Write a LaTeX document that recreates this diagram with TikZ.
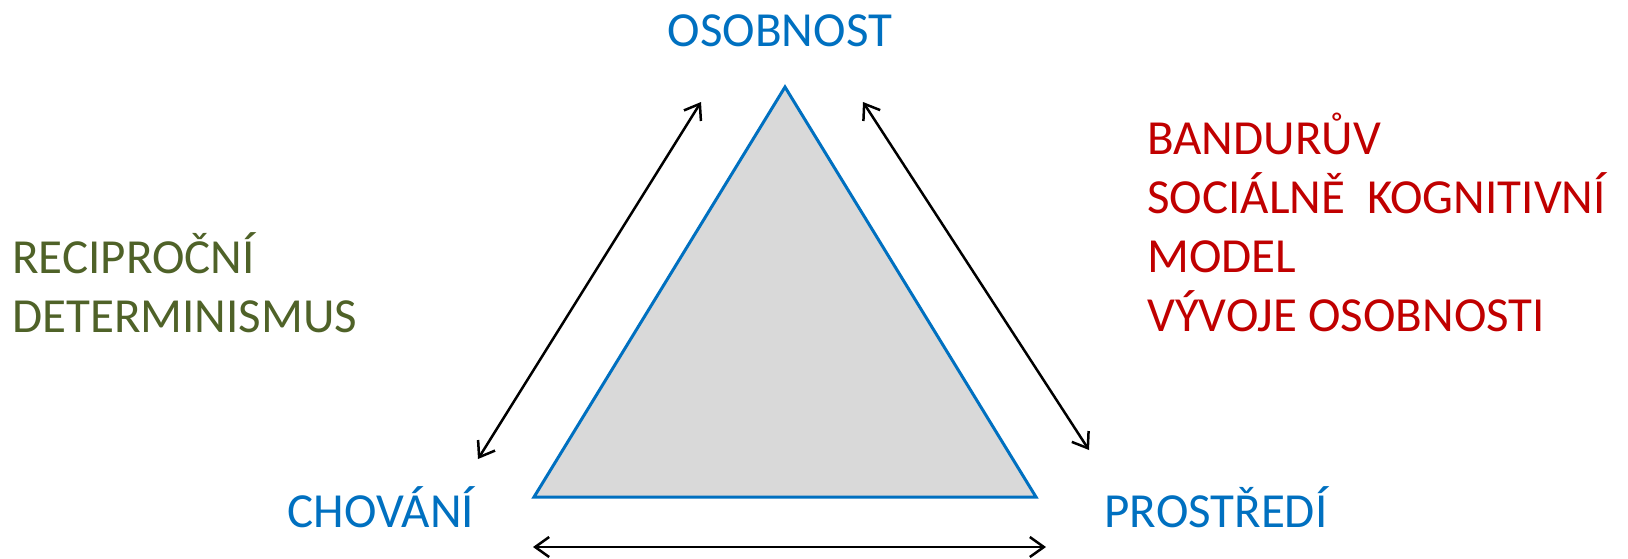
\documentclass[tikz,border=0pt]{standalone}
\usepackage{fontspec}
\setmainfont{Carlito}
\usetikzlibrary{arrows.meta}
\definecolor{osblue}{HTML}{0070C0}
\definecolor{osgreen}{HTML}{4F6228}
\definecolor{osred}{HTML}{C00000}
\definecolor{osgray}{HTML}{D9D9D9}

\begin{document}
\begin{tikzpicture}[x=1pt,y=-1pt,>={Straight Barb[length=14pt,width=20pt]},line width=2.5pt,
    vertex/.style={text=osblue,font=\fontsize{49}{59}\selectfont,inner sep=0pt,anchor=base},
    caption/.style={font=\fontsize{49}{59}\selectfont,inner sep=0pt,anchor=base west,align=left}]
  \useasboundingbox (0,0) rectangle (1628,558);
  % triangle
  \coordinate (t1) at (785,87);
  \coordinate (t2) at (534,497);
  \coordinate (t3) at (1036,497);
  \filldraw[fill=osgray,draw=osblue,line width=3pt] (t1) -- (t2) -- (t3) -- cycle;
  % labels (multi-line ones sit on their last baseline)
  \node[vertex] (O) at (780,46)   {OSOBNOST};
  \node[vertex] (C) at (381,527)  {CHOVÁNÍ};
  \node[vertex] (P) at (1216,527) {PROSTŘEDÍ};
  \node[caption,text=osgreen] (RD) at (11,332)   {RECIPROČNÍ\\DETERMINISMUS};
  \node[caption,text=osred]   (BM) at (1146,331) {BANDURŮV\\SOCIÁLNĚ\ \ KOGNITIVNÍ\\MODEL\\VÝVOJE OSOBNOSTI};
  % arrows
  \coordinate (l1) at (478,459);
  \coordinate (l2) at (701,102);
  \coordinate (r1) at (863,102);
  \coordinate (r2) at (1089,450);
  \coordinate (b1) at (533,547);
  \coordinate (b2) at (1046,547);
  \draw[<->] (l1) -- (l2);
  \draw[<->] (r1) -- (r2);
  \draw[<->] (b1) -- (b2);
\end{tikzpicture}
\end{document}
